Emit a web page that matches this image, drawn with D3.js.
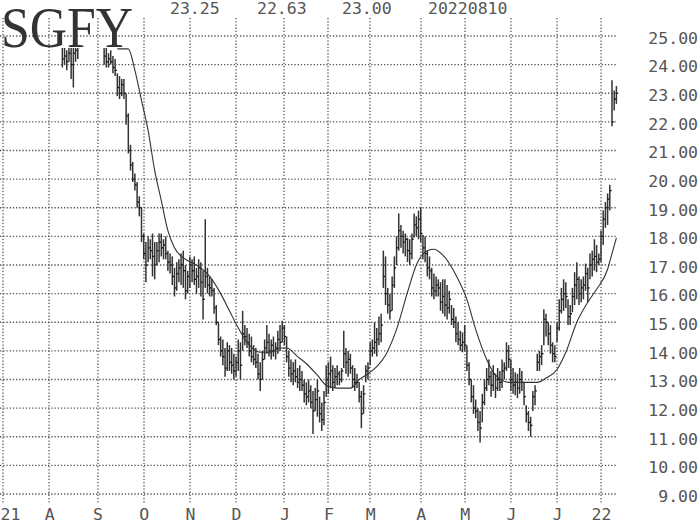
<!DOCTYPE html>
<html><head><meta charset="utf-8">
<script src="https://cdn.jsdelivr.net/npm/d3@7"></script>
<style>html,body{margin:0;padding:0;background:#fff;}svg{display:block;}</style>
</head><body>
<svg id="c" width="700" height="524"></svg>
<script>
// ---- data ----
const symbol = "SGFY";
const headerTexts = ["23.25", "22.63", "23.00", "20220810"];
const monthLabels = ["21","A","S","O","N","D","J","F","M","A","M","J","J","22"];
const monthStartDay = [0,21,43,64,85,106,128,148,167,190,210,231,252,272]; // trading-day index of month start
const priceTicks = [25,24,23,22,21,20,19,18,17,16,15,14,13,12,11,10,9];
const firstDay = 27; // trading-day index of first bar
const highs = [
 24.7,24.6,24.5,24.7,24.6,24.8,24.9,25.3,25.8,26.3,
 26.9,27.2,26.8,26.5,26.9,27.1,26.6,26.0,25.5,24.9,
 24.7,24.4,24.5,24.3,24.2,23.7,23.6,23.5,23.5,23.0,
 22.3,21.2,20.6,20.2,19.9,19.4,19.0,18.1,17.8,18.0,
 17.9,18.1,17.8,17.8,18.1,18.1,17.9,18.0,17.5,17.4,
 17.3,16.9,17.1,17.2,17.4,17.5,17.0,16.8,17.3,17.2,
 17.3,16.9,17.2,17.1,16.8,18.6,16.9,16.6,16.5,16.2,
 15.6,15.0,14.5,14.4,14.1,14.3,14.2,14.1,13.9,13.8,
 14.4,14.3,15.4,14.9,14.8,14.6,14.5,14.2,14.1,13.9,
 13.6,14.0,14.4,14.9,14.6,14.4,14.5,14.3,14.7,14.9,
 15.05,14.9,14.5,14.0,13.7,13.6,13.7,13.4,13.5,13.3,
 13.0,12.9,13.0,12.8,12.6,12.7,13.0,12.4,12.2,12.6,
 13.5,13.6,13.8,13.5,13.4,13.5,13.3,13.4,14.7,14.1,
 14.0,13.9,13.5,13.4,13.2,12.9,12.6,12.8,13.5,13.6,
 14.3,14.4,15.0,14.8,15.2,15.3,17.5,17.3,16.2,16.0,
 16.6,17.3,18.0,18.8,18.4,18.2,18.1,17.95,17.9,18.1,
 18.8,18.7,18.9,19.0,18.05,18.0,17.5,17.3,16.9,16.7,
 16.6,16.5,16.4,16.5,16.5,16.3,16.1,15.6,15.5,15.2,
 15.0,14.7,14.65,14.9,14.2,13.6,13.0,12.8,12.3,12.0,
 11.9,12.5,13.0,13.4,13.7,13.3,13.5,13.2,13.4,13.3,
 13.7,13.6,14.3,14.2,13.7,13.4,13.25,13.2,13.4,13.3,
 12.9,12.1,11.9,11.7,12.6,12.8,13.9,14.0,14.2,15.45,
 15.3,15.0,14.9,14.3,14.2,15.0,15.8,16.2,16.5,16.4,
 15.8,15.6,16.2,16.75,17.1,16.6,16.5,16.6,17.05,16.9,
 17.4,17.5,17.9,17.7,17.4,18.2,18.9,19.2,19.5,19.8,
 23.45,23.1,23.25
];
const lows = [
 23.9,24.0,23.8,24.1,23.5,23.2,24.1,24.2,25.1,25.6,
 26.0,26.4,26.0,25.7,26.1,26.2,25.7,25.2,24.8,24.0,
 23.9,23.9,24.0,23.7,23.6,22.9,22.8,22.9,22.8,21.9,
 20.9,20.3,19.9,19.6,19.0,18.7,17.8,17.2,16.4,17.1,
 17.2,16.6,16.5,17.0,17.1,17.3,17.2,17.2,16.8,16.7,
 16.3,15.9,16.1,16.4,16.3,16.2,15.8,16.0,16.2,16.4,
 16.3,16.0,16.2,15.9,15.1,16.2,16.0,15.9,15.9,15.3,
 14.9,14.2,13.8,13.5,13.1,13.3,13.3,13.2,13.0,13.1,
 13.3,13.0,14.0,14.2,14.1,13.8,13.6,13.5,13.4,13.0,
 12.6,13.0,13.7,13.9,13.8,13.7,13.8,13.7,13.9,14.0,
 14.3,14.2,13.6,13.1,12.9,12.8,12.9,12.7,12.6,12.6,
 12.2,12.1,12.2,12.0,11.1,11.9,11.7,11.5,11.2,11.4,
 12.4,12.5,12.7,12.6,12.7,12.8,12.8,12.9,13.4,13.2,
 13.1,13.2,12.7,12.6,12.7,12.2,11.3,11.8,12.9,13.0,
 13.5,13.8,13.9,13.8,14.2,14.3,16.2,15.6,15.3,15.1,
 15.4,16.2,17.0,17.5,17.6,17.4,17.3,17.1,17.0,17.2,
 17.95,18.0,17.9,17.8,17.2,17.1,16.6,16.5,15.9,15.8,
 15.9,15.9,15.4,15.3,15.2,15.1,15.3,14.9,14.8,14.3,
 14.2,14.0,13.95,14.0,13.3,12.8,12.2,11.8,11.65,11.2,
 10.8,11.5,12.1,12.6,12.8,12.4,12.6,12.35,12.6,12.6,
 12.7,13.0,13.3,13.4,12.6,12.5,12.45,12.35,12.5,12.6,
 12.1,11.5,11.2,11.0,11.9,12.1,13.3,13.3,13.5,14.2,
 14.5,14.2,13.9,13.6,13.6,14.3,14.7,15.3,15.4,15.5,
 14.9,14.9,15.35,15.6,15.8,15.6,15.7,15.8,16.1,15.7,
 16.5,16.6,16.8,16.75,17.0,17.1,17.7,18.3,18.4,18.9,
 21.85,22.4,22.63
];
const closes = [
 24.2,24.3,24.1,24.4,24.0,24.4,24.5,24.6,25.6,26.0,
 26.7,26.6,26.2,26.3,26.6,26.4,25.9,25.4,25.0,24.3,
 24.1,24.2,24.1,23.9,23.8,23.2,23.0,23.3,23.0,22.2,
 21.0,20.5,20.0,19.8,19.2,19.0,18.0,17.4,17.0,17.6,
 17.5,17.3,17.0,17.5,17.8,17.6,17.7,17.4,17.1,17.0,
 16.6,16.2,16.7,16.9,17.0,16.8,16.1,16.6,17.0,16.8,
 16.5,16.6,16.9,16.4,15.8,16.6,16.3,16.2,16.1,15.5,
 15.0,14.4,14.0,13.8,13.4,14.0,13.6,13.5,13.3,13.6,
 14.0,13.5,14.6,14.5,14.3,14.0,13.8,13.7,13.6,13.2,
 13.0,13.7,14.1,14.3,14.0,14.2,14.0,14.1,14.4,14.3,
 14.8,14.5,13.8,13.4,13.2,13.3,13.1,12.9,13.0,12.8,
 12.5,12.4,12.6,12.2,11.9,12.3,12.6,11.8,11.6,12.2,
 13.0,13.2,13.3,12.9,13.1,13.2,13.0,13.3,13.9,13.6,
 13.7,13.4,13.0,12.9,12.9,12.4,11.8,12.5,13.3,13.4,
 14.0,14.1,14.3,14.4,14.6,14.9,16.6,16.0,15.6,15.4,
 16.3,16.9,17.6,18.2,18.0,17.8,17.9,17.5,17.4,17.9,
 18.4,18.3,18.6,18.1,17.6,17.4,16.9,16.8,16.2,16.1,
 16.3,16.2,15.7,15.9,15.6,15.5,15.8,15.1,15.0,14.6,
 14.4,14.2,14.3,14.2,13.5,13.0,12.4,12.0,11.9,11.5,
 11.3,12.2,12.7,13.0,13.1,12.8,13.2,12.7,13.0,12.9,
 13.3,13.4,14.0,13.7,13.0,12.8,12.9,12.7,13.0,12.9,
 12.4,11.8,11.5,11.4,12.4,12.6,13.6,13.8,13.9,15.1,
 15.0,14.6,14.2,13.9,13.8,14.8,15.4,15.8,16.0,15.9,
 15.2,15.3,15.9,16.3,16.5,16.0,16.2,16.3,16.7,16.2,
 17.0,17.2,17.3,17.1,17.2,18.0,18.6,19.0,19.3,19.6,
 22.0,22.8,23.00
];
// moving average line (trading-day index, value)
const maDays = [52,57,60,63,66,69,72,75,78,83,88,94,99,103,107,111,117,121,126,129,134,138,143,147,152,158,162,165,170,174,179,184,188,193,196,200,206,211,215,220,224,230,238,243,247,252,256,261,266,270,275,277,279];
const maValues = [24.55,24.55,23.8,22.75,21.7,20.3,19.25,18.2,17.6,17.2,17.0,16.6,16.0,15.4,14.8,14.3,13.95,13.95,14.1,14.1,13.8,13.55,13.15,12.8,12.7,12.7,13.0,13.15,13.45,13.85,14.75,16.05,17.0,17.5,17.55,17.35,16.65,15.8,14.75,13.7,13.15,12.9,12.9,12.9,13.05,13.35,13.95,15.0,15.7,16.15,16.85,17.4,17.95];

// ---- chart ----
const svg = d3.select("#c");
const x = d3.scaleLinear().domain([0, 272]).range([3, 601]);
const y = d3.scaleLinear().domain([9, 25]).range([494, 36]);
const gridColor = "#555";
const mono = "'DejaVu Sans Mono', monospace";

const grid = svg.append("g");
grid.selectAll("line.h").data(priceTicks).join("line")
  .attr("x1", 0).attr("x2", 617)
  .attr("y1", d => y(d)).attr("y2", d => y(d))
  .attr("stroke", gridColor).attr("stroke-width", 1.3).attr("stroke-dasharray", "1.3,1.9");
grid.selectAll("line.v").data(monthStartDay).join("line")
  .attr("x1", d => Math.round(x(d))).attr("x2", d => Math.round(x(d)))
  .attr("y1", 18).attr("y2", 503)
  .attr("stroke", gridColor).attr("stroke-width", 1.3).attr("stroke-dasharray", "1.3,1.9");

// right price axis
const yAxis = d3.axisRight(y).tickValues(priceTicks).tickFormat(d3.format(".2f")).tickSize(0);
const ya = svg.append("g").attr("transform", "translate(698,0)").call(yAxis);
ya.select(".domain").remove();
ya.selectAll("text").attr("x", 0).attr("dy", "0.32em").attr("transform", "translate(0,2)")
  .attr("text-anchor", "end").style("font-family", mono).style("font-size", "16.5px").attr("fill", "#555");

// bottom month axis
const xAxis = d3.axisBottom(x).tickValues(monthStartDay).tickFormat((d, i) => monthLabels[i]).tickSize(0);
const xa = svg.append("g").attr("transform", "translate(0,508)").call(xAxis);
xa.select(".domain").remove();
xa.selectAll("text").attr("y", 0).attr("dy", "0.75em")
  .style("font-family", mono).style("font-size", "16.5px").attr("fill", "#555");
xa.selectAll(".tick").filter((d, i) => i === 0).select("text").attr("text-anchor", "start").attr("x", -3);

// header
const headerX = [170, 257, 342, 428];
svg.selectAll("text.hdr").data(headerTexts).join("text")
  .attr("x", (d, i) => headerX[i]).attr("y", 14)
  .style("font-family", mono).style("font-size", "16.5px").attr("fill", "#555").text(d => d);

// title
svg.append("text").attr("x", 1).attr("y", 47).text(symbol)
  .attr("textLength", 132).attr("lengthAdjust", "spacingAndGlyphs")
  .style("font-family", "'Liberation Serif', 'Times New Roman', serif").style("font-size", "57px").attr("fill", "#333");

// clip
svg.append("clipPath").attr("id", "plot").append("rect").attr("x", 0).attr("y", 48).attr("width", 620).attr("height", 452);

const bars = highs.map((h, i) => ({ day: firstDay + i, h, l: lows[i], c: closes[i] }));
const pg = svg.append("g").attr("clip-path", "url(#plot)");
pg.selectAll("line.bar").data(bars).join("line")
  .attr("x1", d => x(d.day)).attr("x2", d => x(d.day))
  .attr("y1", d => y(d.h)).attr("y2", d => y(d.l))
  .attr("stroke", "#333").attr("stroke-width", 1.5);
pg.selectAll("line.cl").data(bars).join("line")
  .attr("x1", d => x(d.day)).attr("x2", d => x(d.day) + 1.8)
  .attr("y1", d => y(d.c)).attr("y2", d => y(d.c))
  .attr("stroke", "#111").attr("stroke-width", 1.3);

const ma = maDays.map((d, i) => [d, maValues[i]]);
pg.append("path").datum(ma)
  .attr("d", d3.line().x(d => x(d[0])).y(d => y(d[1])).curve(d3.curveMonotoneX))
  .attr("fill", "none").attr("stroke", "#333").attr("stroke-width", 1.1);
</script>
</body></html>
